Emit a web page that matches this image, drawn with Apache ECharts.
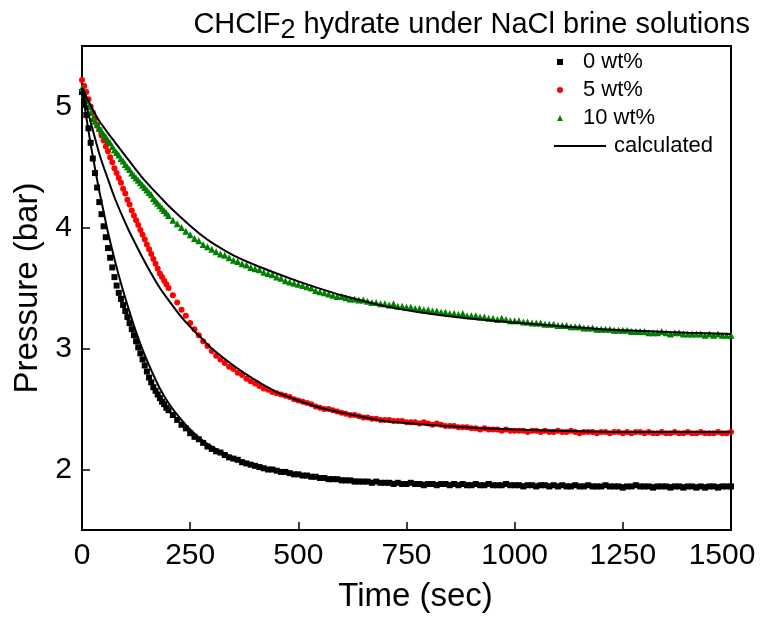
<!DOCTYPE html>
<html><head><meta charset="utf-8">
<script src="https://cdn.jsdelivr.net/npm/echarts@6/dist/echarts.min.js"></script>
<style>html,body{margin:0;padding:0;background:#fff}#c{width:769px;height:617px}</style>
</head><body><div id="c"></div>
<script>
const FONT = "'Liberation Sans', Arial, sans-serif";

// measured time grid (sec)
const timeSec = [
0,5,10,15,20,25,30,35,40,45,50,55,60,65,70,75,80,85,90,95,100,105,110,115,120,125,130,135,140,145,150,155,160,165,170,175,180,185,190,195,200,
210,220,230,240,250,260,270,280,290,300,
310,320,330,340,350,360,370,380,390,400,
410,420,430,440,450,460,470,480,490,500,
510,520,530,540,550,560,570,580,590,600,
610,620,630,640,650,660,670,680,690,700,
710,720,730,740,750,760,770,780,790,800,
810,820,830,840,850,860,870,880,890,900,
910,920,930,940,950,960,970,980,990,1000,
1010,1020,1030,1040,1050,1060,1070,1080,1090,1100,
1110,1120,1130,1140,1150,1160,1170,1180,1190,1200,
1210,1220,1230,1240,1250,1260,1270,1280,1290,1300,
1310,1320,1330,1340,1350,1360,1370,1380,1390,1400,
1410,1420,1430,1440,1450,1460,1470,1480,1490,1500
];

// 0 wt% pressure (bar)
const p0wt = [
5.12,5.02,4.93,4.82,4.70,4.57,4.45,4.33,4.21,4.11,4.01,3.92,3.83,3.75,3.67,3.59,3.52,3.46,3.41,3.36,3.31,3.26,3.21,3.16,3.11,3.06,3.01,2.96,2.91,2.86,2.81,2.76,2.72,2.68,2.65,2.62,2.59,2.56,2.54,2.51,2.49,
2.45,2.41,2.37,2.34,2.30,2.27,2.25,2.22,2.19,2.17,
2.15,2.14,2.12,2.10,2.09,2.08,2.06,2.05,2.04,2.03,
2.02,2.01,2.00,2.00,1.99,1.98,1.98,1.97,1.96,1.96,
1.95,1.95,1.94,1.94,1.93,1.93,1.92,1.92,1.92,1.91,
1.91,1.91,1.90,1.90,1.90,1.90,1.89,1.90,1.89,1.89,
1.89,1.88,1.89,1.88,1.88,1.89,1.88,1.88,1.87,1.88,
1.88,1.87,1.88,1.88,1.87,1.88,1.87,1.88,1.87,1.87,
1.88,1.87,1.87,1.88,1.87,1.87,1.87,1.88,1.87,1.87,
1.87,1.86,1.87,1.87,1.86,1.87,1.87,1.86,1.87,1.86,
1.87,1.86,1.86,1.87,1.86,1.86,1.87,1.86,1.86,1.86,
1.87,1.86,1.86,1.86,1.85,1.86,1.86,1.87,1.86,1.86,
1.86,1.85,1.86,1.86,1.86,1.85,1.86,1.86,1.85,1.86,
1.86,1.85,1.86,1.85,1.86,1.86,1.85,1.86,1.86,1.86
];

// 5 wt% pressure (bar)
const p5wt = [
5.22,5.17,5.12,5.06,5.00,4.95,4.90,4.85,4.81,4.76,4.72,4.67,4.63,4.58,4.54,4.49,4.45,4.41,4.37,4.32,4.28,4.23,4.19,4.14,4.10,4.06,4.02,3.98,3.94,3.90,3.86,3.82,3.78,3.74,3.70,3.66,3.62,3.59,3.56,3.53,3.50,
3.44,3.38,3.32,3.27,3.21,3.16,3.11,3.06,3.02,2.98,
2.94,2.91,2.88,2.85,2.83,2.80,2.78,2.75,2.73,2.71,
2.69,2.67,2.66,2.64,2.63,2.62,2.61,2.60,2.58,2.57,
2.56,2.55,2.54,2.52,2.51,2.50,2.50,2.49,2.48,2.47,
2.46,2.45,2.45,2.44,2.43,2.43,2.42,2.42,2.41,2.41,
2.41,2.40,2.40,2.40,2.39,2.39,2.39,2.38,2.39,2.38,
2.37,2.38,2.37,2.36,2.36,2.36,2.35,2.35,2.35,2.34,
2.34,2.33,2.34,2.33,2.33,2.33,2.32,2.33,2.32,2.32,
2.32,2.32,2.31,2.32,2.32,2.31,2.32,2.31,2.31,2.32,
2.31,2.31,2.32,2.31,2.30,2.31,2.31,2.31,2.30,2.31,
2.31,2.30,2.31,2.31,2.30,2.31,2.30,2.31,2.31,2.30,
2.31,2.30,2.30,2.31,2.30,2.30,2.31,2.30,2.30,2.31,
2.30,2.30,2.31,2.30,2.30,2.30,2.31,2.30,2.30,2.31
];

// 10 wt% pressure (bar)
const p10wt = [
5.15,5.10,5.05,5.00,4.95,4.90,4.88,4.85,4.82,4.80,4.77,4.75,4.72,4.70,4.67,4.64,4.62,4.60,4.57,4.55,4.52,4.50,4.48,4.45,4.43,4.41,4.39,4.37,4.35,4.33,4.31,4.29,4.27,4.24,4.22,4.20,4.18,4.16,4.14,4.12,4.10,
4.06,4.03,4.00,3.97,3.94,3.91,3.89,3.86,3.84,3.82,
3.80,3.78,3.77,3.75,3.73,3.72,3.70,3.69,3.67,3.66,
3.65,3.63,3.62,3.61,3.59,3.58,3.56,3.55,3.54,3.53,
3.52,3.51,3.50,3.48,3.47,3.46,3.45,3.44,3.43,3.43,
3.42,3.41,3.41,3.40,3.40,3.39,3.38,3.38,3.37,3.37,
3.36,3.37,3.35,3.35,3.34,3.34,3.33,3.33,3.32,3.32,
3.31,3.31,3.30,3.30,3.29,3.29,3.28,3.29,3.27,3.27,
3.27,3.26,3.26,3.25,3.25,3.24,3.25,3.24,3.23,3.23,
3.23,3.22,3.22,3.21,3.21,3.21,3.20,3.20,3.20,3.19,
3.19,3.19,3.18,3.18,3.18,3.17,3.17,3.17,3.16,3.16,
3.16,3.16,3.15,3.15,3.15,3.15,3.14,3.14,3.14,3.14,
3.13,3.13,3.13,3.14,3.13,3.12,3.13,3.13,3.12,3.12,
3.12,3.12,3.12,3.11,3.12,3.11,3.12,3.11,3.11,3.11
];

// calculated curves
const calcTime = [0,5,10,20,30,40,50,60,75,90,105,120,140,160,180,200,225,250,275,300,350,400,450,500,550,600,700,800,900,1000,1100,1200,1300,1400,1500];
const calc0wt = [5.15,5.03,4.91,4.69,4.49,4.30,4.13,3.96,3.74,3.54,3.36,3.19,2.99,2.82,2.67,2.55,2.43,2.33,2.25,2.19,2.10,2.04,1.995,1.965,1.94,1.925,1.90,1.89,1.882,1.878,1.875,1.872,1.87,1.87,1.87];
const calc5wt = [5.15,5.08,5.01,4.87,4.74,4.61,4.50,4.40,4.25,4.12,4.00,3.89,3.75,3.62,3.50,3.40,3.28,3.18,3.09,3.00,2.86,2.74,2.64,2.57,2.51,2.47,2.40,2.37,2.345,2.33,2.32,2.313,2.31,2.31,2.31];
const calc10wt = [5.15,5.12,5.08,5.01,4.94,4.88,4.83,4.78,4.71,4.64,4.57,4.50,4.41,4.33,4.255,4.18,4.095,4.015,3.94,3.875,3.77,3.69,3.62,3.555,3.495,3.44,3.35,3.29,3.245,3.215,3.185,3.16,3.145,3.13,3.12];

const xTicks = [0,250,500,750,1000,1250,1500];
const yTicks = [2,3,4,5];

const pair = (xs, ys) => xs.map((x, i) => [x, ys[i]]);

const chart = echarts.init(document.getElementById('c'), null, {renderer: 'canvas'});
chart.setOption({
  animation: false,
  backgroundColor: '#fff',
  title: {
    text: '{a|CHClF}{s|2}{a| hydrate under NaCl brine solutions}',
    right: 14, top: 0,
    textStyle: {
      fontWeight: 'normal',
      rich: {
        a: {fontFamily: FONT, fontSize: 29, fontWeight: 'normal', color: '#000'},
        s: {fontFamily: FONT, fontSize: 27, fontWeight: 'normal', color: '#000', padding: [12, 0, 0, 0], verticalAlign: 'bottom'}
      }
    }
  },
  legend: [
    {
      data: ['0 wt%', '5 wt%', '10 wt%'],
      orient: 'vertical', left: 557, top: 51, padding: 0,
      itemWidth: 6, itemHeight: 6, itemGap: 6,
      selectedMode: false,
      textStyle: {fontFamily: FONT, fontSize: 22, color: '#000', padding: [0, 0, 0, 15]}
    },
    {
      data: ['calculated'],
      orient: 'vertical', left: 553, top: 135, padding: 0,
      itemWidth: 52, itemHeight: 4,
      selectedMode: false,
      itemStyle: {opacity: 0},
      lineStyle: {color: '#000', width: 2},
      textStyle: {fontFamily: FONT, fontSize: 22, color: '#000', padding: [0, 0, 0, 3]}
    }
  ],
  grid: {left: 82, right: 38, top: 46, bottom: 87, outerBoundsMode: 'none', containLabel: false, show: true, borderColor: '#000', borderWidth: 2, backgroundColor: 'transparent'},
  xAxis: {
    type: 'value', min: xTicks[0], max: xTicks[xTicks.length - 1], interval: 250,
    name: 'Time (sec)', nameLocation: 'middle', nameGap: 50,
    nameTextStyle: {fontFamily: FONT, fontSize: 33, color: '#000', padding: [0, 0, 0, 18]},
    axisLine: {show: true, lineStyle: {color: '#000', width: 2}},
    axisTick: {show: true, inside: true, length: 8, lineStyle: {color: '#000', width: 1.5}},
    axisLabel: {
      fontFamily: FONT, fontSize: 30, color: '#000', margin: 11,
      formatter: (v) => v === xTicks[xTicks.length - 1] ? '{m|' + v + '}' : String(v),
      rich: {m: {fontFamily: FONT, fontSize: 30, color: '#000', padding: [0, 18, 0, 0]}}
    },
    splitLine: {show: false}
  },
  yAxis: {
    type: 'value', min: 1.5, max: 5.5,
    name: 'Pressure (bar)', nameLocation: 'middle', nameGap: 37,
    nameTextStyle: {fontFamily: FONT, fontSize: 33, color: '#000'},
    axisLine: {show: true, lineStyle: {color: '#000', width: 2}},
    axisTick: {show: true, inside: true, length: 8, lineStyle: {color: '#000', width: 1.5}, customValues: yTicks},
    axisLabel: {fontFamily: FONT, fontSize: 30, color: '#000', margin: 10, customValues: yTicks},
    splitLine: {show: false}
  },
  series: [
    {name: '0 wt%', type: 'scatter', symbol: 'rect', symbolSize: 6, itemStyle: {color: '#000', opacity: 1}, data: pair(timeSec, p0wt), z: 2},
    {name: '5 wt%', type: 'scatter', symbol: 'circle', symbolSize: 6, itemStyle: {color: '#ff0000', opacity: 1}, data: pair(timeSec, p5wt), z: 2},
    {name: '10 wt%', type: 'scatter', symbol: 'triangle', symbolSize: 7, itemStyle: {color: '#008000', opacity: 1}, data: pair(timeSec, p10wt), z: 2},
    {name: 'calculated', type: 'line', symbol: 'none', smooth: 0.3, lineStyle: {color: '#000', width: 2}, itemStyle: {color: '#000'}, data: pair(calcTime, calc0wt), z: 3},
    {name: 'calculated', type: 'line', symbol: 'none', smooth: 0.3, lineStyle: {color: '#000', width: 2}, itemStyle: {color: '#000'}, data: pair(calcTime, calc5wt), z: 3},
    {name: 'calculated', type: 'line', symbol: 'none', smooth: 0.3, lineStyle: {color: '#000', width: 2}, itemStyle: {color: '#000'}, data: pair(calcTime, calc10wt), z: 3}
  ]
});
</script>
</body></html>
